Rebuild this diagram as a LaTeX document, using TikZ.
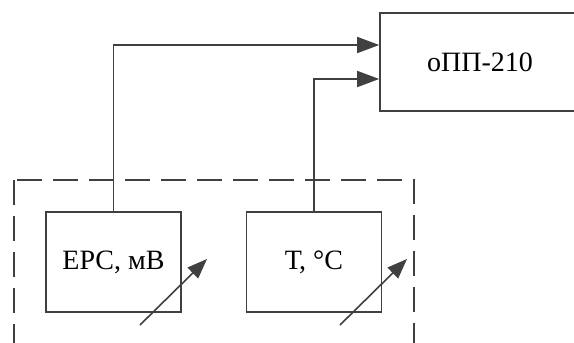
\documentclass[tikz,border=0pt]{standalone}
\usepackage{fontspec}
\setmainfont{Liberation Serif}
\usetikzlibrary{arrows.meta}
\definecolor{linegray}{HTML}{404040}
\tikzset{
  blk/.style={draw=linegray,line width=1.6pt,minimum width=135pt,minimum height=100pt,
    inner sep=0pt,font=\fontsize{28}{32}\selectfont},
  sig/.style={draw=linegray,line width=1.6pt,-{Triangle[length=22pt,width=16pt]},
    line join=miter},
}
\begin{document}
\begin{tikzpicture}[x=1pt,y=-1pt]
\useasboundingbox (0,0) rectangle (574,343);
\clip (0,0) rectangle (574,343);
% output device
\node[blk,minimum width=200pt,minimum height=98pt] (opp) at (480,62) {оПП-210};
% measured values
\node[blk] (eps) at (113.5,262) {ЕРС, мВ};
\node[blk] (temp) at (314,262) {Т, °С};
\draw[linegray,line width=1.6pt,dash pattern=on 25pt off 11pt] (14,180) rectangle (414,370);
\draw[sig] (eps.north) |- ([yshift=17pt]opp.west);
\draw[sig] (temp.north) |- ([yshift=-17pt]opp.west);
% adjustable
\coordinate (a1) at (140,325);
\coordinate (a2) at (340,325);
\draw[sig,-{Triangle[length=20pt,width=15pt]}] (a1) -- ++(67,-66);
\draw[sig,-{Triangle[length=20pt,width=15pt]}] (a2) -- ++(67,-66);
\end{tikzpicture}
\end{document}
